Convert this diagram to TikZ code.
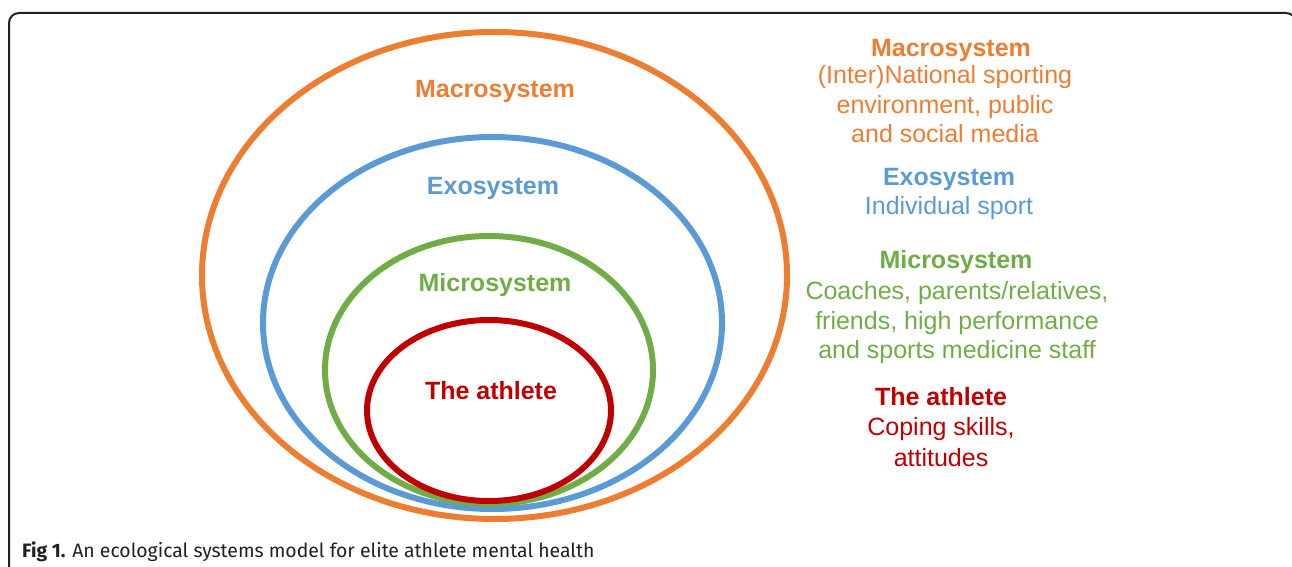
\documentclass[tikz,border=0pt]{standalone}
\usepackage{fontspec}
\setmainfont{Liberation Sans}
\newfontfamily\capfont{Fira Sans}
\definecolor{corange}{HTML}{ED7D31}
\definecolor{cblue}{HTML}{5B9BD5}
\definecolor{cgreen}{HTML}{70AD47}
\definecolor{cred}{HTML}{C00000}
\definecolor{cframe}{HTML}{231F20}
\begin{document}
\begin{tikzpicture}[x=1pt,y=-1pt,
  ring/.style={line width=6pt},
  lbl/.style={font=\fontsize{25}{29.5}\selectfont\bfseries, align=center, inner sep=0pt},
  desc/.style={font=\fontsize{25}{29.8}\selectfont, align=center, inner sep=0pt}]
\useasboundingbox (0,0) rectangle (1292,567);
% frame
\draw[line width=2pt, cframe, rounded corners=10pt] (9,580) -- (9,13) -- (1296,13) -- (1296,580);
% rings
\draw[ring, corange] (494.5,275.5) ellipse [x radius=292.5, y radius=243.5];
\draw[ring, cblue] (492.5,323) ellipse [x radius=229.5, y radius=186];
\draw[ring, cgreen] (489,370) ellipse [x radius=164, y radius=134];
\draw[ring, cred] (489,410.5) ellipse [x radius=122, y radius=90.5];
% ring labels
\node[lbl, text=corange] (lmacro) at (495,91) {Macrosystem};
\node[lbl, text=cblue] (lexo) at (493,188) {Exosystem};
\node[lbl, text=cgreen] (lmicro) at (495,285) {Microsystem};
\node[lbl, text=cred] (lath) at (491,391) {The athlete};
% legend
\node[lbl, text=corange] (rmacro) at (951,50) {Macrosystem};
\node[desc, text=corange, anchor=north] (dmacro) at (945,65) {(Inter)National sporting\\environment, public\\and social media};
\node[lbl, text=cblue] (rexo) at (949,179) {Exosystem};
\node[desc, text=cblue, anchor=north] (dexo) at (949,196) {Individual sport};
\node[lbl, text=cgreen] (rmicro) at (956,262) {Microsystem};
\node[desc, text=cgreen, anchor=north] (dmicro) at (957,281) {Coaches, parents/relatives,\\friends, high performance\\and sports medicine staff};
\node[lbl, text=cred] (rath) at (941,397) {The athlete};
\node[desc, text=cred, anchor=north, font=\fontsize{25}{31}\selectfont] (dath) at (941,417) {Coping skills,\\attitudes};
% caption
\node[anchor=base west, inner sep=0pt, text=cframe, font=\capfont\fontsize{19.4}{22}\selectfont] (cap) at (22,557) {\textbf{Fig 1.} An ecological systems model for elite athlete mental health};
\end{tikzpicture}
\end{document}
